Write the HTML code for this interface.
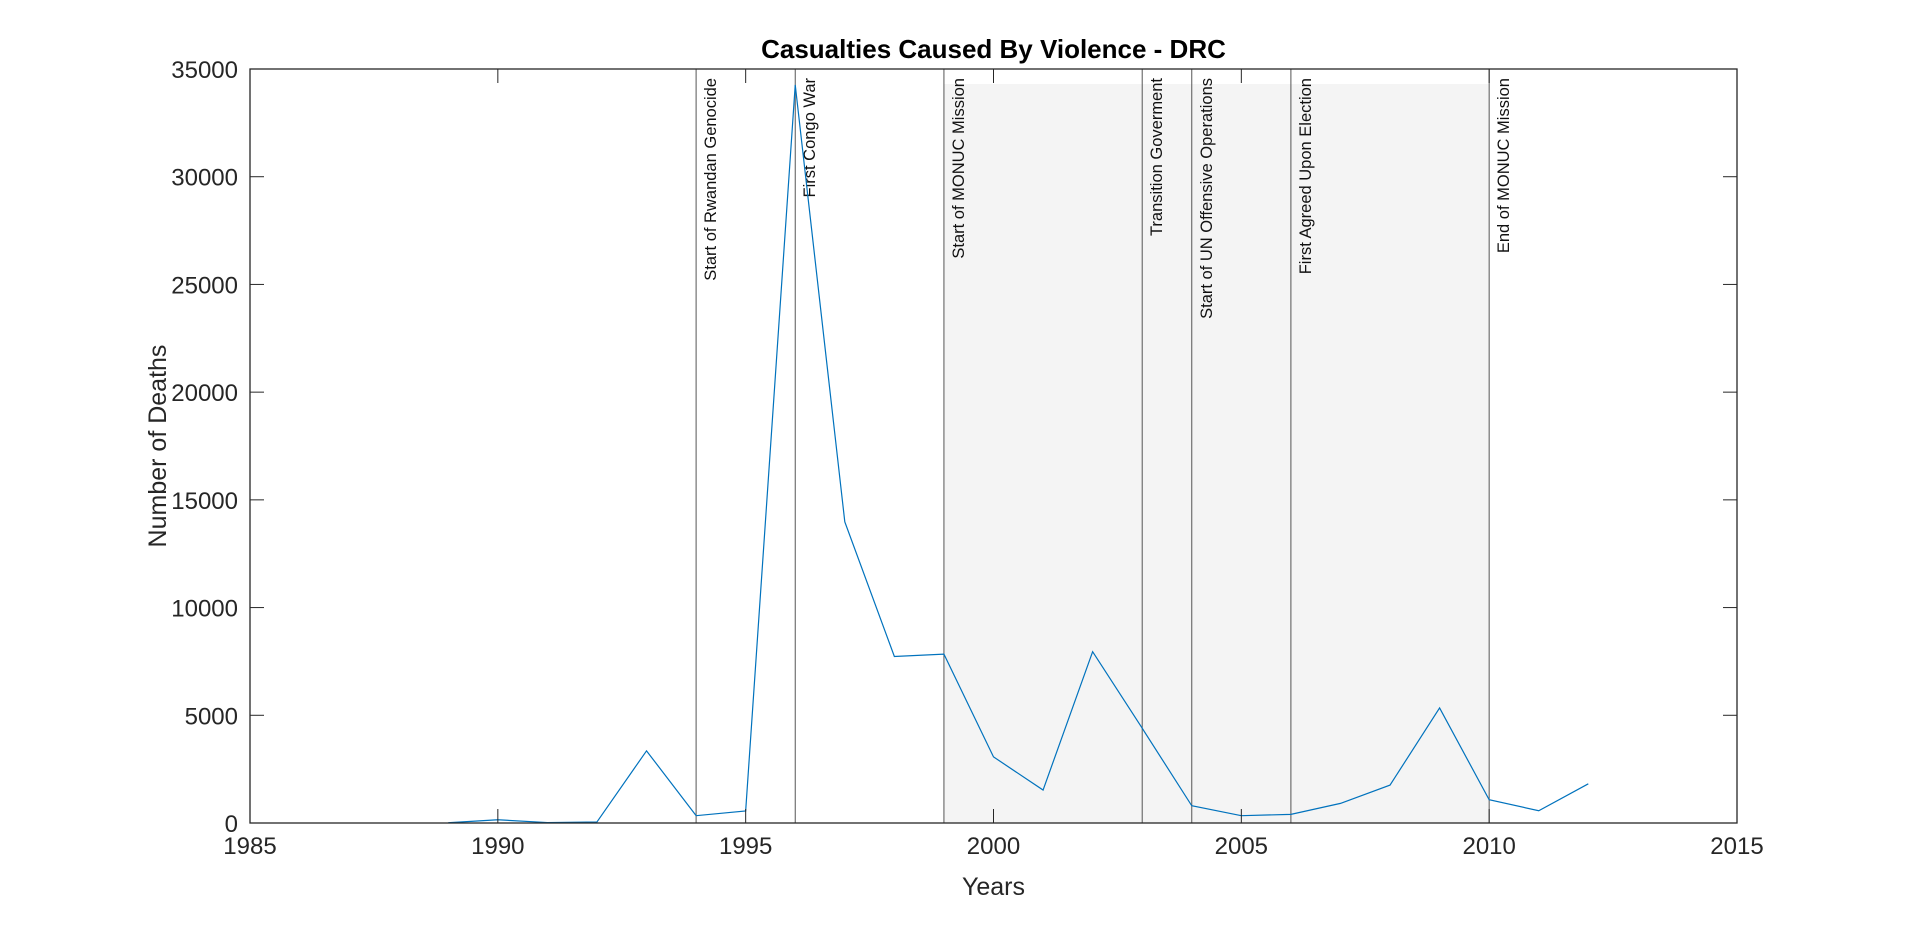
<!DOCTYPE html>
<html><head><meta charset="utf-8"><style>
body{margin:0;background:#fff}
svg{display:block;font-family:"Liberation Sans",Arial,sans-serif}
</style></head><body>
<svg id="c" width="1920" height="926"></svg>
<script>
const years=[1989,1990,1991,1992,1993,1994,1995,1996,1997,1998,1999,2000,2001,2002,2003,2004,2005,2006,2007,2008,2009,2010,2011,2012];
const deaths=[10,150,20,50,3350,340,560,34260,13980,7730,7840,3070,1530,7950,4400,800,340,400,910,1760,5340,1080,570,1820];
const eventYears=[1994,1996,1999,2003,2004,2006,2010];
const eventLabels=["Start of Rwandan Genocide","First Congo War","Start of MONUC Mission","Transition Goverment","Start of UN Offensive Operations","First Agreed Upon Election","End of MONUC Mission"];
const shadeRange=[1999,2010];
const shadeTop=34300;
const xTicks=[1985,1990,1995,2000,2005,2010,2015];
const yTicks=[0,5000,10000,15000,20000,25000,30000,35000];
const L=250,R=1737,T=69,B=823;
const xs=v=>L+(v-1985)/30*(R-L);
const ys=v=>B-v/35000*(B-T);
const svg=document.getElementById('c');
const NS='http://www.w3.org/2000/svg';
function mk(tag,attrs,parent){const e=document.createElementNS(NS,tag);for(const k in attrs)e.setAttribute(k,attrs[k]);(parent||svg).appendChild(e);return e;}
let r=mk('rect',{x:xs(shadeRange[0]),y:ys(shadeTop),width:xs(shadeRange[1])-xs(shadeRange[0]),height:B-ys(shadeTop),fill:'#f4f4f4'});


eventYears.forEach((y,i)=>{
 let l=mk('line',{x1:xs(y),x2:xs(y),y1:T,y2:B,stroke:'#555','stroke-width':1});
 
 
 let t=mk('text',{transform:`translate(${xs(y)+20},${T+9}) rotate(-90)`,'text-anchor':'end','font-size':16.5,fill:'#111'});
 t.textContent=eventLabels[i];
 
 
});
let p=mk('polyline',{points:years.map((y,i)=>xs(y)+','+ys(deaths[i])).join(' '),fill:'none',stroke:'#0072bd','stroke-width':1.2});


let ax=mk('rect',{x:L,y:T,width:R-L,height:B-T,fill:'none',stroke:'#262626','stroke-width':1.3});


xTicks.forEach(v=>{
 mk('line',{x1:xs(v),x2:xs(v),y1:B,y2:B-14,stroke:'#262626'});
 mk('line',{x1:xs(v),x2:xs(v),y1:T,y2:T+14,stroke:'#262626'});
 let t=mk('text',{x:xs(v),y:B+31,'text-anchor':'middle','font-size':24,fill:'#262626'});
 t.textContent=v;
 
 
});
yTicks.forEach(v=>{
 mk('line',{x1:L,x2:L+14,y1:ys(v),y2:ys(v),stroke:'#262626'});
 mk('line',{x1:R,x2:R-14,y1:ys(v),y2:ys(v),stroke:'#262626'});
 let t=mk('text',{x:L-12,y:ys(v)+9,'text-anchor':'end','font-size':24,fill:'#262626'});
 t.textContent=v;
 
 
});
let tt=mk('text',{x:(L+R)/2,y:T-11,'text-anchor':'middle','font-size':26,'font-weight':'bold',fill:'#000'});
tt.textContent='Casualties Caused By Violence - DRC';


let xl=mk('text',{x:(L+R)/2,y:B+72,'text-anchor':'middle','font-size':25,fill:'#262626'});
xl.textContent='Years';


let yl=mk('text',{transform:`translate(166,${(T+B)/2}) rotate(-90)`,'text-anchor':'middle','font-size':25,fill:'#262626'});
yl.textContent='Number of Deaths';


</script>
</body></html>
